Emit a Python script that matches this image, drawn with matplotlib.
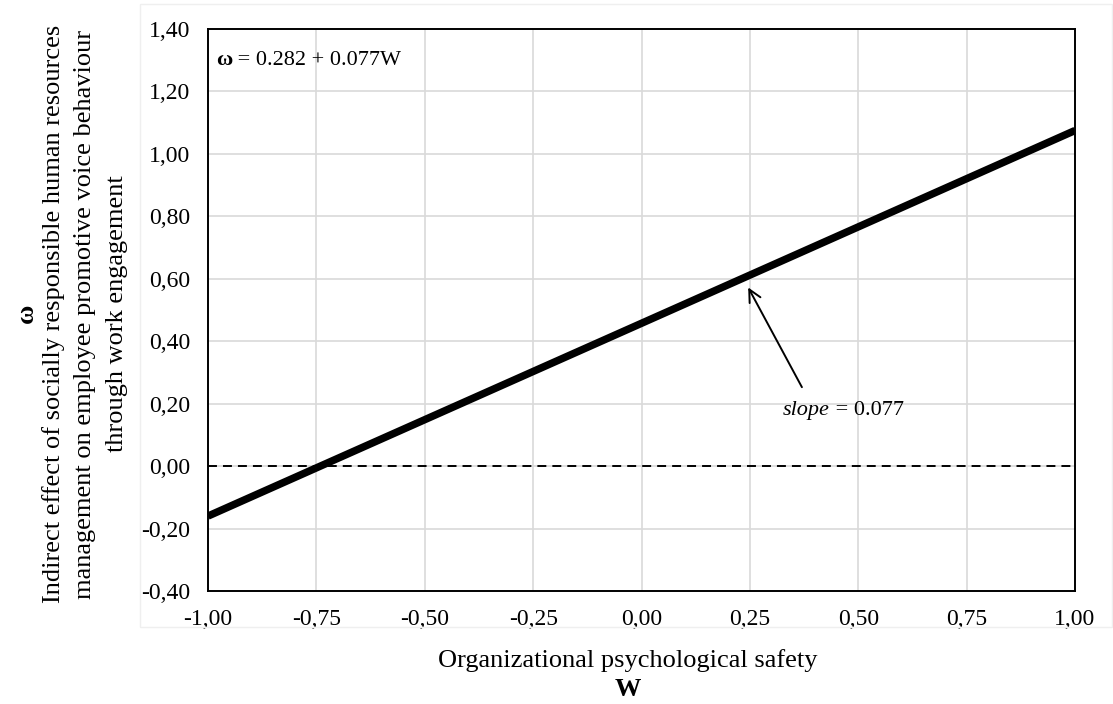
import numpy as np
import matplotlib.pyplot as plt
from matplotlib.patches import Rectangle

plt.rcParams['font.family'] = ['Liberation Serif', 'DejaVu Serif']

# line endpoints
w_vals = [-1.0, 1.0]
omega_vals = [-0.16, 1.075]

xticks = [-1.0, -0.75, -0.5, -0.25, 0.0, 0.25, 0.5, 0.75, 1.0]
yticks = [-0.4, -0.2, 0.0, 0.2, 0.4, 0.6, 0.8, 1.0, 1.2, 1.4]

fs_tick = 17
fs_note = 16
fs_lab = 19

fig = plt.figure(figsize=(11.13, 7.04), dpi=100)
ax = fig.add_axes([0.1869, 0.1605, 0.779, 0.7983])

# faint chart area border
fig.patches.append(Rectangle((140 / 1113, 1 - 627 / 704), (1112 - 140) / 1113, (627 - 4) / 704,
                             transform=fig.transFigure, fill=False, edgecolor='#efefef', lw=1))

ax.plot(w_vals, omega_vals, color='black', lw=5.4, solid_capstyle='butt', zorder=3)
ax.axhline(0, color='black', lw=1.4, ls=(0, (4.6, 3.1)), zorder=2)

ax.set_xlim(-1, 1)
ax.set_ylim(-0.4, 1.4)
ax.set_xticks(xticks)
ax.set_yticks(yticks)
ax.set_xticklabels([('%.2f' % t).replace('.', ',') for t in xticks], fontsize=fs_tick)
ax.set_yticklabels([('%.2f' % t).replace('.', ',') for t in yticks], fontsize=fs_tick)
ax.tick_params(axis='x', length=0, pad=13)
ax.tick_params(axis='y', length=0, pad=13)
ax.grid(True, color='#d9d9d9', lw=1.2)
ax.set_axisbelow(True)
for s in ax.spines.values():
    s.set_linewidth(1.4)
    s.set_color('black')

# equation
t1 = ax.text(-0.982, 1.30, 'ω', fontsize=fs_note, fontweight='bold', va='center', ha='left')
ax.annotate(' = 0.282 + 0.077W', xy=(1, 0.5), xycoords=t1, va='center', ha='left', fontsize=fs_note)

# slope annotation
ax.annotate('', xy=(0.243, 0.58), xytext=(0.373, 0.245),
            arrowprops=dict(arrowstyle='->', color='black', lw=1.4, mutation_scale=22))
t2 = ax.text(0.326, 0.178, 'slope', fontsize=fs_note, style='italic', va='center', ha='left')
ax.annotate(' = 0.077', xy=(1, 0.5), xycoords=t2, va='center', ha='left', fontsize=fs_note)

# axis titles
fig.text(628 / 1113, 1 - 661 / 704, 'Organizational psychological safety', fontsize=fs_lab,
         ha='center', va='center')
fig.text(628 / 1113, 1 - 690 / 704, 'W', fontsize=fs_lab, fontweight='bold', ha='center', va='center')

fig.text(26 / 1113, 1 - 313 / 704, 'ω', fontsize=fs_lab, fontweight='bold', rotation=90,
         ha='center', va='center')
fig.text(85 / 1113, 1 - 314 / 704,
         'Indirect effect of socially responsible human resources\n'
         'management on employee promotive voice behaviour\n'
         'through work engagement',
         fontsize=fs_lab, rotation=90, ha='center', va='center', multialignment='center',
         linespacing=1.55)

fig.savefig('out.png', dpi=100)
